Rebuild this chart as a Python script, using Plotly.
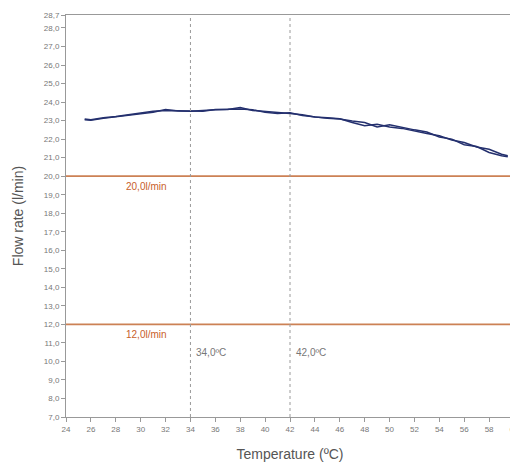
import plotly.graph_objects as go

temp_heat = [25.5, 26, 27, 28, 29, 30, 31, 32, 33, 34, 35, 36, 37, 38, 39, 40, 41, 42, 43, 44, 45, 46, 47, 48, 49, 50, 51, 52, 53, 54, 55, 56, 57, 58, 59, 59.5]
flow_heat = [23.05, 23.02, 23.12, 23.2, 23.28, 23.35, 23.45, 23.6, 23.52, 23.5, 23.55, 23.58, 23.6, 23.7, 23.55, 23.48, 23.42, 23.38, 23.32, 23.2, 23.15, 23.1, 22.9, 22.72, 22.8, 22.65, 22.58, 22.42, 22.3, 22.18, 21.95, 21.82, 21.58, 21.45, 21.18, 21.1]
temp_cool = [59.5, 59, 58, 57, 56, 55, 54, 53, 52, 51, 50, 49, 48, 47, 46, 45, 44, 43, 42, 41, 40, 39, 38, 37, 36, 35, 34, 33, 32, 31, 30, 29, 28, 27, 26, 25.5]
flow_cool = [21.05, 21.1, 21.28, 21.6, 21.7, 22.0, 22.12, 22.38, 22.5, 22.65, 22.78, 22.66, 22.9, 22.98, 23.08, 23.12, 23.18, 23.28, 23.42, 23.38, 23.45, 23.58, 23.62, 23.62, 23.6, 23.5, 23.52, 23.5, 23.55, 23.5, 23.4, 23.3, 23.22, 23.15, 23.05, 23.08]

x_ticks = list(range(24, 61, 2))
y_ticks = list(range(7, 29)) + [28.7]
y_tick_text = [f"{v:.1f}".replace(".", ",") for v in y_ticks]

limit_flows = [20.0, 12.0]
limit_labels = ["20,0l/min", "12,0l/min"]
limit_label_x = [30.5, 30.5]
marker_temps = [34.0, 42.0]
marker_labels = ["34,0ºC", "42,0ºC"]

fig = go.Figure()
for t, f in [(temp_heat, flow_heat), (temp_cool, flow_cool)]:
    fig.add_trace(go.Scatter(x=t, y=f, mode="lines",
                             line=dict(color="#24306e", width=1.5),
                             showlegend=False, hoverinfo="skip"))

for v in limit_flows:
    fig.add_hline(y=v, line=dict(color="#cc8155", width=1.6))
for v in marker_temps:
    fig.add_vline(x=v, line=dict(color="#9a9a9a", width=1, dash="dot"))

for v, lab, lx in zip(limit_flows, limit_labels, limit_label_x):
    fig.add_annotation(x=lx, y=v, text=lab, showarrow=False, xanchor="center",
                       yanchor="top", yshift=-3,
                       font=dict(family="Liberation Sans Narrow, Liberation Sans", size=10, color="#c8602a"))
for v, lab in zip(marker_temps, marker_labels):
    fig.add_annotation(x=v, y=10.5, text=lab, showarrow=False, xanchor="left",
                       xshift=4,
                       font=dict(family="Liberation Sans Narrow, Liberation Sans", size=10, color="#777777"))

axis_font = dict(family="Liberation Sans Narrow, Liberation Sans", size=8, color="#777777")
fig.update_xaxes(range=[24, 60], tickvals=x_ticks, ticktext=[str(v) for v in x_ticks],
                 tickfont=axis_font, ticks="outside", ticklen=4, tickcolor="#999999",
                 ticklabeloverflow="allow", automargin="bottom",
                 showline=True, linecolor="#999999", linewidth=1, mirror=True,
                 showgrid=False, zeroline=False,
                 title=dict(text="Temperature (ºC)", standoff=16,
                            font=dict(family="Liberation Sans Narrow, Liberation Sans", size=14, color="#555555")))
fig.update_yaxes(range=[7, 28.7], tickvals=y_ticks, ticktext=y_tick_text,
                 tickfont=axis_font, ticks="outside", ticklen=4, tickcolor="#999999",
                 showline=True, linecolor="#999999", linewidth=1, mirror=True,
                 showgrid=False, zeroline=False,
                 title=dict(text="Flow rate (l/min)", standoff=16,
                            font=dict(family="Liberation Sans Narrow, Liberation Sans", size=14, color="#555555")))
# page body has an 8px default margin, so the figure is sized to fit the 518x462 window
fig.update_layout(width=510, height=454, margin=dict(l=58, r=3, t=5, b=37),
                  plot_bgcolor="white", paper_bgcolor="white")
fig.write_html("out.html")
